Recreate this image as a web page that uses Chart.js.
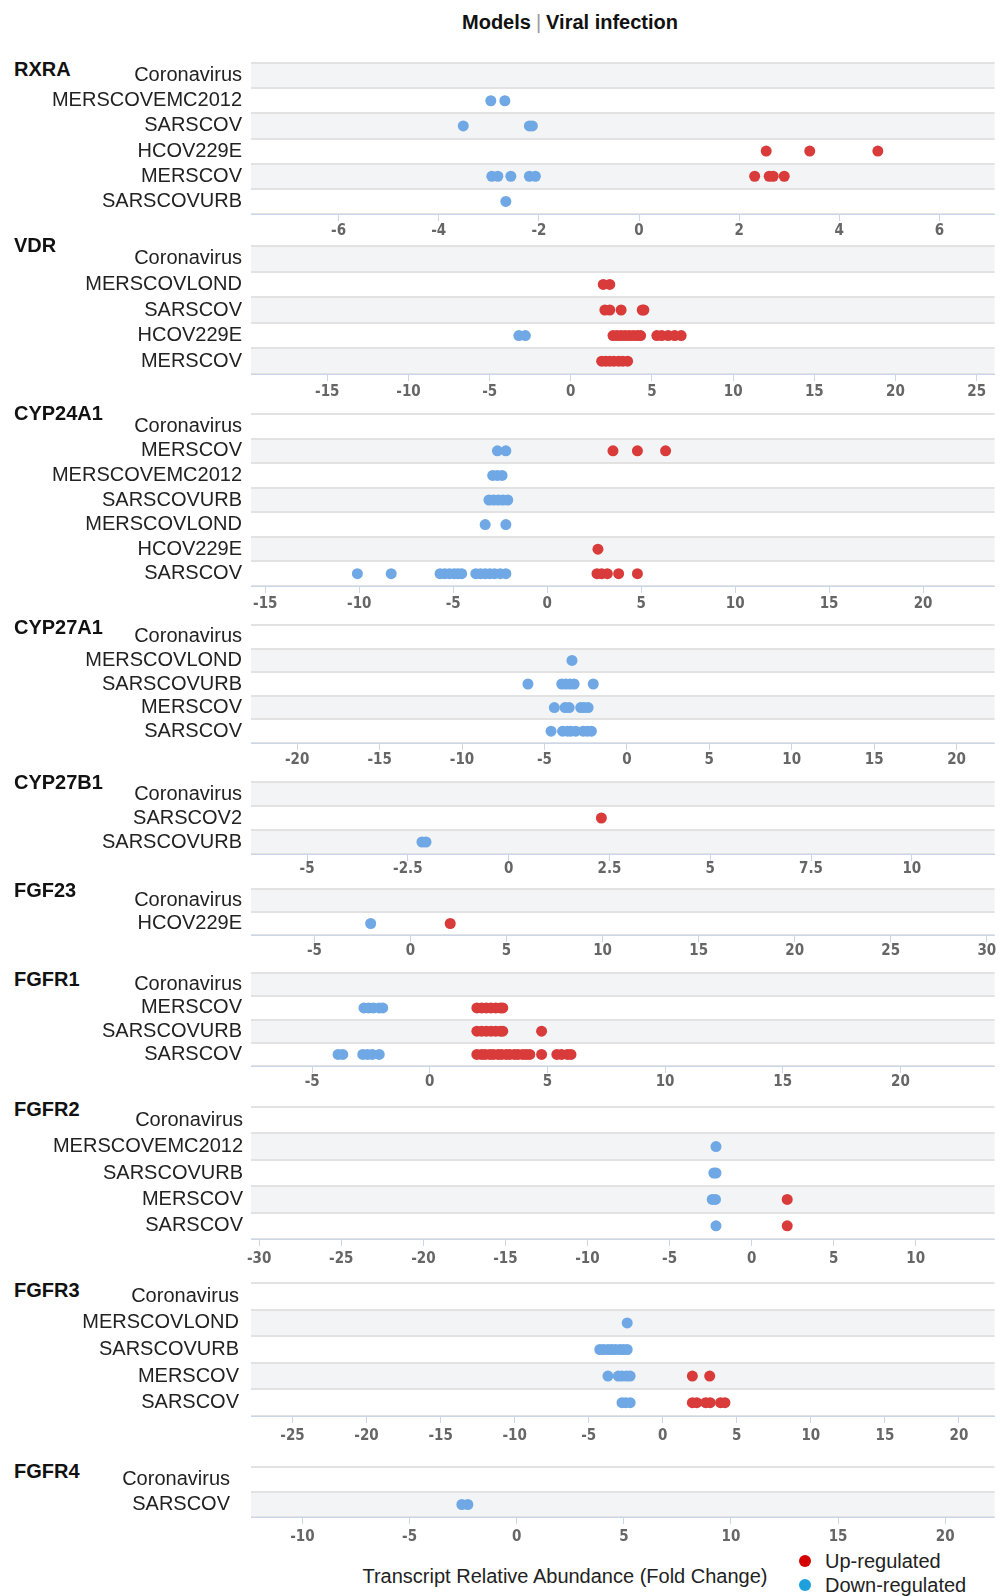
<!DOCTYPE html>
<html><head><meta charset="utf-8">
<script src="https://cdn.jsdelivr.net/npm/chart.js@4.4.0/dist/chart.umd.min.js"></script>
<style>
body{margin:0;background:#fff;width:1000px;height:1596px;position:relative;overflow:hidden;font-family:'Liberation Sans',Arial,sans-serif;}
.gene{position:absolute;left:14px;font-weight:bold;font-size:20px;line-height:22px;color:#111;}
canvas{position:absolute;left:0;}
#title{position:absolute;top:10px;left:0;width:1140px;text-align:center;font-size:20px;font-weight:bold;color:#111;line-height:24px;}
#title .sep{color:#999;font-weight:normal;padding:0 5px;}
#xtitle{position:absolute;left:355px;width:420px;text-align:center;top:1564px;font-size:20px;line-height:24px;color:#222;}
.leg{position:absolute;left:799px;font-size:20px;line-height:24px;color:#222;}
.leg i{display:inline-block;width:12px;height:12px;border-radius:50%;margin-right:14px;vertical-align:1px;}
</style>
</head><body>
<div id="title">Models<span class="sep">|</span>Viral infection</div>
<div id="xtitle">Transcript Relative Abundance (Fold Change)</div>
<div class="leg" style="top:1549px"><i style="background:#d40000"></i>Up-regulated</div>
<div class="leg" style="top:1573px"><i style="background:#1ea0dc"></i>Down-regulated</div>
<script>
// ---------- DATA ----------
const RXRA_rows = ['Coronavirus','MERSCOVEMC2012','SARSCOV','HCOV229E','MERSCOV','SARSCOVURB'];
const RXRA_up = {HCOV229E:[2.54,3.41,4.77], MERSCOV:[2.31,2.6,2.68,2.9]};
const RXRA_down = {MERSCOVEMC2012:[-2.96,-2.68], SARSCOV:[-3.51,-2.19,-2.13], MERSCOV:[-2.94,-2.82,-2.56,-2.19,-2.07], SARSCOVURB:[-2.66]};
const RXRA_ticks = [-6,-4,-2,0,2,4,6];
const RXRA_range = [-7.75, 7.1];

const VDR_rows = ['Coronavirus','MERSCOVLOND','SARSCOV','HCOV229E','MERSCOV'];
const VDR_up = {MERSCOVLOND:[2.0,2.4], SARSCOV:[2.1,2.4,3.1,4.4,4.5], HCOV229E:[2.6,2.85,3.1,3.35,3.6,3.85,4.1,4.3,5.3,5.6,6.0,6.4,6.8], MERSCOV:[1.9,2.15,2.4,2.65,2.95,3.2,3.5]};
const VDR_down = {HCOV229E:[-3.2,-2.8]};
const VDR_ticks = [-15,-10,-5,0,5,10,15,20,25];
const VDR_range = [-19.7, 26.1];

const CYP24A1_rows = ['Coronavirus','MERSCOV','MERSCOVEMC2012','SARSCOVURB','MERSCOVLOND','HCOV229E','SARSCOV'];
const CYP24A1_up = {MERSCOV:[3.5,4.8,6.3], HCOV229E:[2.7], SARSCOV:[2.65,2.9,3.2,3.8,4.8]};
const CYP24A1_down = {MERSCOV:[-2.65,-2.2], MERSCOVEMC2012:[-2.9,-2.65,-2.4], SARSCOVURB:[-3.1,-2.85,-2.6,-2.35,-2.1], MERSCOVLOND:[-3.3,-2.2], SARSCOV:[-10.1,-8.3,-5.7,-5.45,-5.2,-4.95,-4.75,-4.55,-3.8,-3.55,-3.3,-3.05,-2.8,-2.5,-2.2]};
const CYP24A1_ticks = [-15,-10,-5,0,5,10,15,20];
const CYP24A1_range = [-15.76, 23.8];

const CYP27A1_rows = ['Coronavirus','MERSCOVLOND','SARSCOVURB','MERSCOV','SARSCOV'];
const CYP27A1_up = {};
const CYP27A1_down = {MERSCOVLOND:[-3.33], SARSCOVURB:[-6.0,-3.95,-3.7,-3.45,-3.2,-2.04], MERSCOV:[-4.4,-3.75,-3.5,-2.8,-2.6,-2.35], SARSCOV:[-4.6,-3.9,-3.6,-3.4,-3.1,-2.65,-2.4,-2.15]};
const CYP27A1_ticks = [-20,-15,-10,-5,0,5,10,15,20];
const CYP27A1_range = [-22.8, 22.3];

const CYP27B1_rows = ['Coronavirus','SARSCOV2','SARSCOVURB'];
const CYP27B1_up = {SARSCOV2:[2.3]};
const CYP27B1_down = {SARSCOVURB:[-2.15,-2.05]};
const CYP27B1_ticks = [-5,-2.5,0,2.5,5,7.5,10];
const CYP27B1_range = [-6.39, 12.05];

const FGF23_rows = ['Coronavirus','HCOV229E'];
const FGF23_up = {HCOV229E:[2.07]};
const FGF23_down = {HCOV229E:[-2.07]};
const FGF23_ticks = [-5,0,5,10,15,20,25,30];
const FGF23_range = [-8.3, 30.4];

const FGFR1_rows = ['Coronavirus','MERSCOV','SARSCOVURB','SARSCOV'];
const FGFR1_up = {MERSCOV:[2.0,2.2,2.4,2.6,2.8,3.0,3.1], SARSCOVURB:[2.0,2.2,2.4,2.6,2.8,3.0,3.1,4.75], SARSCOV:[2.0,2.2,2.35,2.55,2.7,2.9,3.05,3.25,3.4,3.6,3.75,3.95,4.1,4.25,4.75,5.4,5.6,5.85,6.0]};
const FGFR1_down = {MERSCOV:[-2.8,-2.6,-2.4,-2.15,-2.0], SARSCOV:[-3.9,-3.7,-2.85,-2.65,-2.45,-2.15]};
const FGFR1_ticks = [-5,0,5,10,15,20];
const FGFR1_range = [-7.6, 24.0];

const FGFR2_rows = ['Coronavirus','MERSCOVEMC2012','SARSCOVURB','MERSCOV','SARSCOV'];
const FGFR2_up = {MERSCOV:[2.17], SARSCOV:[2.17]};
const FGFR2_down = {MERSCOVEMC2012:[-2.17], SARSCOVURB:[-2.3,-2.17], MERSCOV:[-2.4,-2.2], SARSCOV:[-2.17]};
const FGFR2_ticks = [-30,-25,-20,-15,-10,-5,0,5,10];
const FGFR2_range = [-30.5, 14.8];

const FGFR3_rows = ['Coronavirus','MERSCOVLOND','SARSCOVURB','MERSCOV','SARSCOV'];
const FGFR3_up = {MERSCOV:[2.0,3.17], SARSCOV:[2.0,2.3,2.9,3.2,3.9,4.2]};
const FGFR3_down = {MERSCOVLOND:[-2.4], SARSCOVURB:[-4.25,-4.0,-3.7,-3.45,-3.2,-2.9,-2.65,-2.4], MERSCOV:[-3.7,-3.0,-2.75,-2.45,-2.2], SARSCOV:[-2.75,-2.5,-2.2]};
const FGFR3_ticks = [-25,-20,-15,-10,-5,0,5,10,15,20];
const FGFR3_range = [-27.8, 22.4];

const FGFR4_rows = ['Coronavirus','SARSCOV'];
const FGFR4_up = {};
const FGFR4_down = {SARSCOV:[-2.56,-2.28]};
const FGFR4_ticks = [-10,-5,0,5,10,15,20];
const FGFR4_range = [-12.4, 22.3];

// ---------- PANELS (data refs + layout) ----------
const panels = [
 {gene:'RXRA', rows:RXRA_rows, up:RXRA_up, down:RXRA_down, ticks:RXRA_ticks, range:RXRA_range, top:63, bottom:214, tickY:231, labelRight:242, even:true, geneY:69},
 {gene:'VDR', rows:VDR_rows, up:VDR_up, down:VDR_down, ticks:VDR_ticks, range:VDR_range, top:246, bottom:374, tickY:392, labelRight:242, even:true, geneY:245},
 {gene:'CYP24A1', rows:CYP24A1_rows, up:CYP24A1_up, down:CYP24A1_down, ticks:CYP24A1_ticks, range:CYP24A1_range, top:414, bottom:586, tickY:604, labelRight:242, even:false, geneY:413},
 {gene:'CYP27A1', rows:CYP27A1_rows, up:CYP27A1_up, down:CYP27A1_down, ticks:CYP27A1_ticks, range:CYP27A1_range, top:625, bottom:743, tickY:760, labelRight:242, even:false, geneY:627},
 {gene:'CYP27B1', rows:CYP27B1_rows, up:CYP27B1_up, down:CYP27B1_down, ticks:CYP27B1_ticks, range:CYP27B1_range, top:782, bottom:854, tickY:869, labelRight:242, even:true, geneY:782},
 {gene:'FGF23', rows:FGF23_rows, up:FGF23_up, down:FGF23_down, ticks:FGF23_ticks, range:FGF23_range, top:889, bottom:935, tickY:951, labelRight:242, even:true, geneY:890},
 {gene:'FGFR1', rows:FGFR1_rows, up:FGFR1_up, down:FGFR1_down, ticks:FGFR1_ticks, range:FGFR1_range, top:973, bottom:1066, tickY:1082, labelRight:242, even:true, geneY:979},
 {gene:'FGFR2', rows:FGFR2_rows, up:FGFR2_up, down:FGFR2_down, ticks:FGFR2_ticks, range:FGFR2_range, top:1107, bottom:1239, tickY:1259, labelRight:243, even:false, geneY:1109},
 {gene:'FGFR3', rows:FGFR3_rows, up:FGFR3_up, down:FGFR3_down, ticks:FGFR3_ticks, range:FGFR3_range, top:1283, bottom:1416, tickY:1436, labelRight:239, even:false, geneY:1290},
 {gene:'FGFR4', rows:FGFR4_rows, up:FGFR4_up, down:FGFR4_down, ticks:FGFR4_ticks, range:FGFR4_range, top:1467, bottom:1517, tickY:1537, labelRight:230, even:false, geneY:1471}
];

const PLOT_LEFT = 251, PLOT_RIGHT = 996, TICK_LEN = 7;
const UP_COLOR = '#d93b3b', DOWN_COLOR = '#6fa8e4';
const TICK_FONT = "'Liberation Sans Narrow', 'DejaVu Sans Condensed', 'Liberation Sans', sans-serif";

const bandPlugin = {
  id: 'bands',
  beforeDraw(chart, args, opts) {
    const y = chart.scales.y, a = chart.chartArea, ctx = chart.ctx;
    const n = y.getLabels().length, h = (y.bottom - y.top) / n;
    ctx.save();
    ctx.fillStyle = '#f3f4f6';
    for (let i = 0; i < n; i++) {
      if ((i % 2 === 0) === opts.even) {
        const c = y.getPixelForValue(i);
        ctx.fillRect(a.left, c - h / 2, a.right - a.left, h);
      }
    }
    ctx.restore();
  }
};

function toPoints(obj) {
  const pts = [];
  Object.keys(obj).forEach(k => obj[k].forEach(v => pts.push({x: v, y: k})));
  return pts;
}

panels.forEach(p => {
  const g = document.createElement('div');
  g.className = 'gene'; g.textContent = p.gene;
  g.style.top = (p.geneY - 11) + 'px';
  document.body.appendChild(g);

  const cTop = p.top - 6;
  const cH = p.tickY + 14 - cTop;
  const cv = document.createElement('canvas');
  cv.width = 1000; cv.height = cH;
  cv.style.top = cTop + 'px'; cv.style.width = '1000px'; cv.style.height = cH + 'px';
  document.body.appendChild(cv);
  new Chart(cv, {
    type: 'scatter',
    data: { datasets: [
      {label:'Up-regulated', data: toPoints(p.up), backgroundColor: UP_COLOR, pointRadius: 5.5, borderWidth: 0},
      {label:'Down-regulated', data: toPoints(p.down), backgroundColor: DOWN_COLOR, pointRadius: 5.5, borderWidth: 0}
    ]},
    options: {
      responsive: false, animation: false, devicePixelRatio: 1,
      layout: { padding: {top: 6, right: 1000 - PLOT_RIGHT, left: 0, bottom: 0} },
      plugins: { legend: {display: false}, tooltip: {enabled: false}, bands: {even: p.even} },
      scales: {
        y: {
          type: 'category', labels: p.rows, offset: true,
          grid: {offset: true, color: '#e2e2e2', lineWidth: 2, drawTicks: false},
          border: {display: false},
          ticks: {autoSkip: false, padding: PLOT_LEFT - p.labelRight, color: '#222',
                  font: {family: "'Liberation Sans', Arial, sans-serif", size: 20}},
          afterFit: s => { s.width = PLOT_LEFT; s.paddingTop = 0; s.paddingBottom = 0; }
        },
        x: {
          type: 'linear', min: p.range[0], max: p.range[1],
          afterBuildTicks: s => { s.ticks = p.ticks.map(v => ({value: v})); },
          grid: {display: true, drawOnChartArea: false, drawTicks: true, tickLength: TICK_LEN, color: '#ccd6eb', lineWidth: 1},
          border: {display: true, color: '#ccd6eb', width: 1},
          ticks: {color: '#666', padding: p.tickY - p.bottom - TICK_LEN - 9, maxRotation: 0, autoSkip: false,
                  font: {family: TICK_FONT, size: 15, weight: 'bold'}},
          afterFit: s => { s.height = p.tickY + 14 - p.bottom; s.paddingLeft = 0; s.paddingRight = 0; }
        }
      }
    },
    plugins: [bandPlugin]
  });
});
</script>
</body></html>
